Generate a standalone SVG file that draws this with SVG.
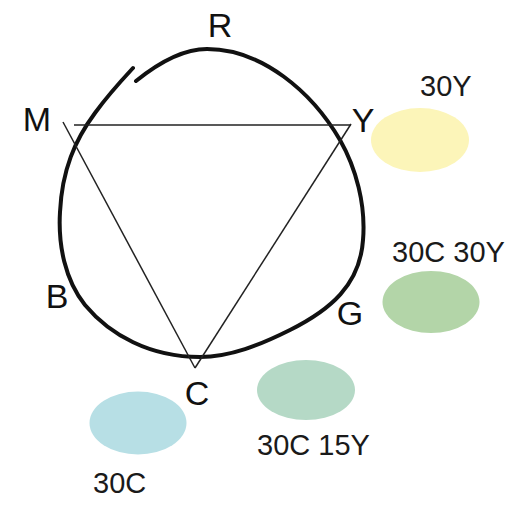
<svg xmlns="http://www.w3.org/2000/svg" width="524" height="510" viewBox="0 0 524 510">
<style>
.loop{fill:none;stroke:#111;stroke-width:4;stroke-linecap:round}
.tri{fill:none;stroke:#222;stroke-width:1.5}
.hand{font-family:"Liberation Sans",Arial,sans-serif;font-size:34px;fill:#111;text-anchor:middle}
.lbl{font-family:"Liberation Sans",Arial,sans-serif;font-size:29px;fill:#1a1a1a}
</style>
<rect width="524" height="510" fill="#fff"/>
<g id="connectors">
<path class="loop" d="M136,81 C162,60 185,49 207,49 C262,49 312,92 340,140 C356,168 366,205 363,240 C360,285 330,310 290,330 C260,345 230,357 200,357 C150,357 110,335 85,305 C65,280 58,245 60,212 C62,170 75,140 95,113 C108,95 120,82 133,68"/>
<line class="tri" x1="74" y1="125" x2="351" y2="125" stroke="#555"/>
<line class="tri" x1="63" y1="122" x2="195" y2="368"/>
<line class="tri" x1="351" y1="124" x2="195" y2="368"/>
</g>
<g id="labels">
<text class="hand" x="37" y="131">M</text>
<text class="hand" x="220" y="37">R</text>
<text class="hand" x="363" y="132">Y</text>
<text class="hand" x="57" y="308">B</text>
<text class="hand" x="350" y="325">G</text>
<text class="hand" x="197" y="405">C</text>
</g>
<g id="node-30Y">
<ellipse cx="420" cy="140" rx="49" ry="32" fill="#fcf5b9"/>
<text class="lbl" x="420" y="96">30Y</text>
</g>
<g id="node-30C30Y">
<ellipse cx="431" cy="302" rx="48.5" ry="31" fill="#b3d5a8"/>
<text class="lbl" x="392" y="262">30C 30Y</text>
</g>
<g id="node-30C15Y">
<ellipse cx="306" cy="390" rx="49" ry="30" fill="#b5d9c6"/>
<text class="lbl" x="257" y="455">30C 15Y</text>
</g>
<g id="node-30C">
<ellipse cx="138" cy="423" rx="48.5" ry="31.5" fill="#b7dfe5"/>
<text class="lbl" x="93" y="493">30C</text>
</g>
</svg>
